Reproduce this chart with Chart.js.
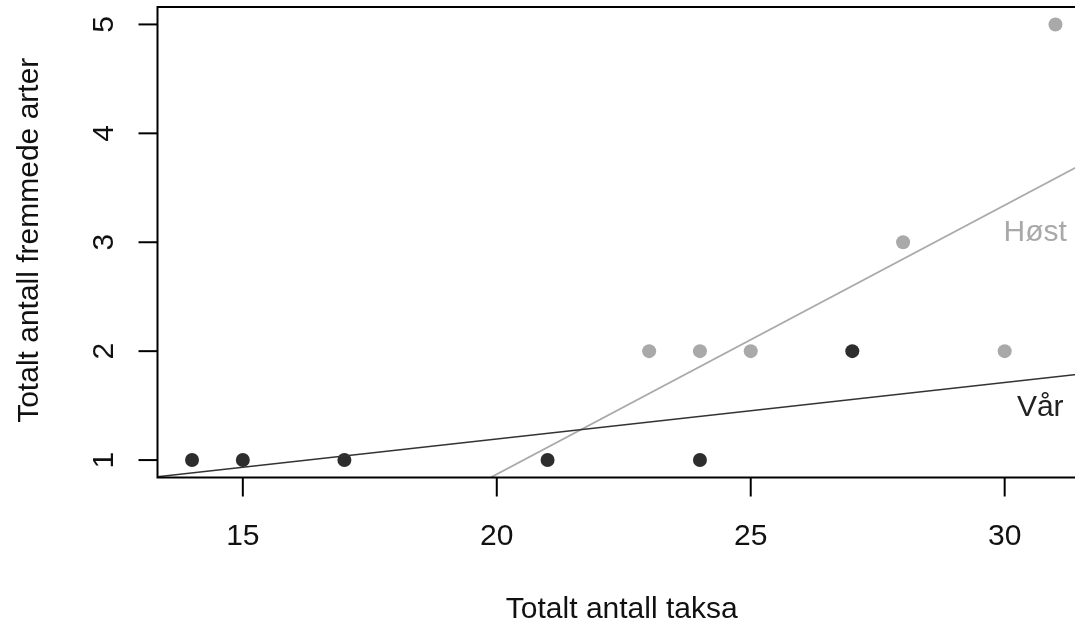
<!DOCTYPE html>
<html>
<head>
<meta charset="utf-8">
<script src="https://cdn.jsdelivr.net/npm/chart.js@4"></script>
<style>
  html, body { margin: 0; padding: 0; background: #fff; overflow: hidden; }
  #wrap { width: 1100px; height: 624px; }
</style>
</head>
<body>
<div id="wrap"><canvas id="chart" width="1100" height="624"></canvas></div>
<script>
// Vår (spring) points
const varX = [14, 15, 17, 21, 24, 27];
const varY = [1, 1, 1, 1, 1, 2];
// Høst (autumn) points
const hostX = [23, 24, 25, 28, 30, 31];
const hostY = [2, 2, 2, 3, 2, 5];
// fitted lines, [intercept, slope]
const varFit = [0.156, 0.0519];
const hostFit = [-4.07, 0.247];
// tick labels
const xTicks = [15, 20, 25, 30];
const yTicks = [1, 2, 3, 4, 5];

const xTitle = "Totalt antall taksa";
const yTitle = "Totalt antall fremmede arter";

const FONT = '30px "Liberation Sans", Arial, sans-serif';
const DARK = "#2d2d2d";
const GREY = "#a9a9a9";

// R style axis range: data range plus 4% each side
const rng = (arr) => {
  const lo = Math.min(...arr), hi = Math.max(...arr);
  const pad = (hi - lo) * 0.04;
  return [lo - pad, hi + pad];
};
const [xMin, xMax] = rng(varX.concat(hostX));
const [yMin, yMax] = rng(varY.concat(hostY));

const toPoints = (xs, ys) => xs.map((x, i) => ({ x: x, y: ys[i] }));
const fitLine = (f) => [xMin, xMax].map((x) => ({ x: x, y: f[0] + f[1] * x }));

//labels written next to the fitted lines
const lineLabels = [
  { text: "Høst", x: 30.6, y: 3.09, color: GREY },
  { text: "Vår", x: 30.7, y: 1.48, color: "#222" },
];

const axesPlugin = {
  id: "rAxes",
  afterDraw: (chart) => {
    const ctx = chart.ctx;
    const a = chart.chartArea;
    const xs = chart.scales.x;
    const ys = chart.scales.y;
    ctx.save();
    ctx.strokeStyle = "#000";
    ctx.lineWidth = 2;
    ctx.strokeRect(a.left, a.top, a.right - a.left, a.bottom - a.top);

    ctx.font = FONT;
    ctx.fillStyle = "#111";
    // x axis
    ctx.textAlign = "center";
    ctx.textBaseline = "alphabetic";
    xTicks.forEach((t) => {
      const px = xs.getPixelForValue(t);
      ctx.beginPath();
      ctx.moveTo(px, a.bottom);
      ctx.lineTo(px, a.bottom + 19);
      ctx.stroke();
      ctx.fillText(String(t), px, 545);
    });
    ctx.fillText(xTitle, (a.left + a.right) / 2 - 2, 618);

    // y axis, labels turned like in R
    yTicks.forEach((t) => {
      const py = ys.getPixelForValue(t);
      ctx.beginPath();
      ctx.moveTo(a.left, py);
      ctx.lineTo(a.left - 19, py);
      ctx.stroke();
      ctx.save();
      ctx.translate(113, py);
      ctx.rotate(-Math.PI / 2);
      ctx.fillText(String(t), 0, 0);
      ctx.restore();
    });
    ctx.save();
    ctx.translate(38, (a.top + a.bottom) / 2 - 2);
    ctx.rotate(-Math.PI / 2);
    ctx.fillText(yTitle, 0, 0);
    ctx.restore();

    // line labels
    ctx.textBaseline = "middle";
    lineLabels.forEach((l) => {
      ctx.fillStyle = l.color;
      ctx.fillText(l.text, xs.getPixelForValue(l.x), ys.getPixelForValue(l.y));
    });
    ctx.restore();
  },
};

new Chart(document.getElementById("chart"), {
  type: "scatter",
  data: {
    datasets: [
      {
        label: "Vår",
        data: toPoints(varX, varY),
        backgroundColor: DARK,
        pointRadius: 7,
        pointBorderWidth: 0,
        order: 3,
      },
      {
        label: "Høst",
        data: toPoints(hostX, hostY),
        backgroundColor: GREY,
        pointRadius: 7,
        pointBorderWidth: 0,
        order: 4,
      },
      {
        type: "line",
        label: "Vår fit",
        data: fitLine(varFit),
        borderColor: "#333",
        borderWidth: 1.6,
        pointRadius: 0,
        clip: 0,
        order: 1,
      },
      {
        type: "line",
        label: "Høst fit",
        data: fitLine(hostFit),
        borderColor: "#aaa",
        borderWidth: 1.8,
        pointRadius: 0,
        clip: 0,
        order: 2,
      },
    ],
  },
  options: {
    responsive: false,
    animation: false,
    layout: { padding: { left: 157.5, right: 10, top: 6.5, bottom: 146.5 } },
    plugins: { legend: { display: false }, tooltip: { enabled: false } },
    scales: {
      x: { type: "linear", min: xMin, max: xMax, display: false },
      y: { type: "linear", min: yMin, max: yMax, display: false },
    },
  },
  plugins: [axesPlugin],
});
</script>
</body>
</html>
